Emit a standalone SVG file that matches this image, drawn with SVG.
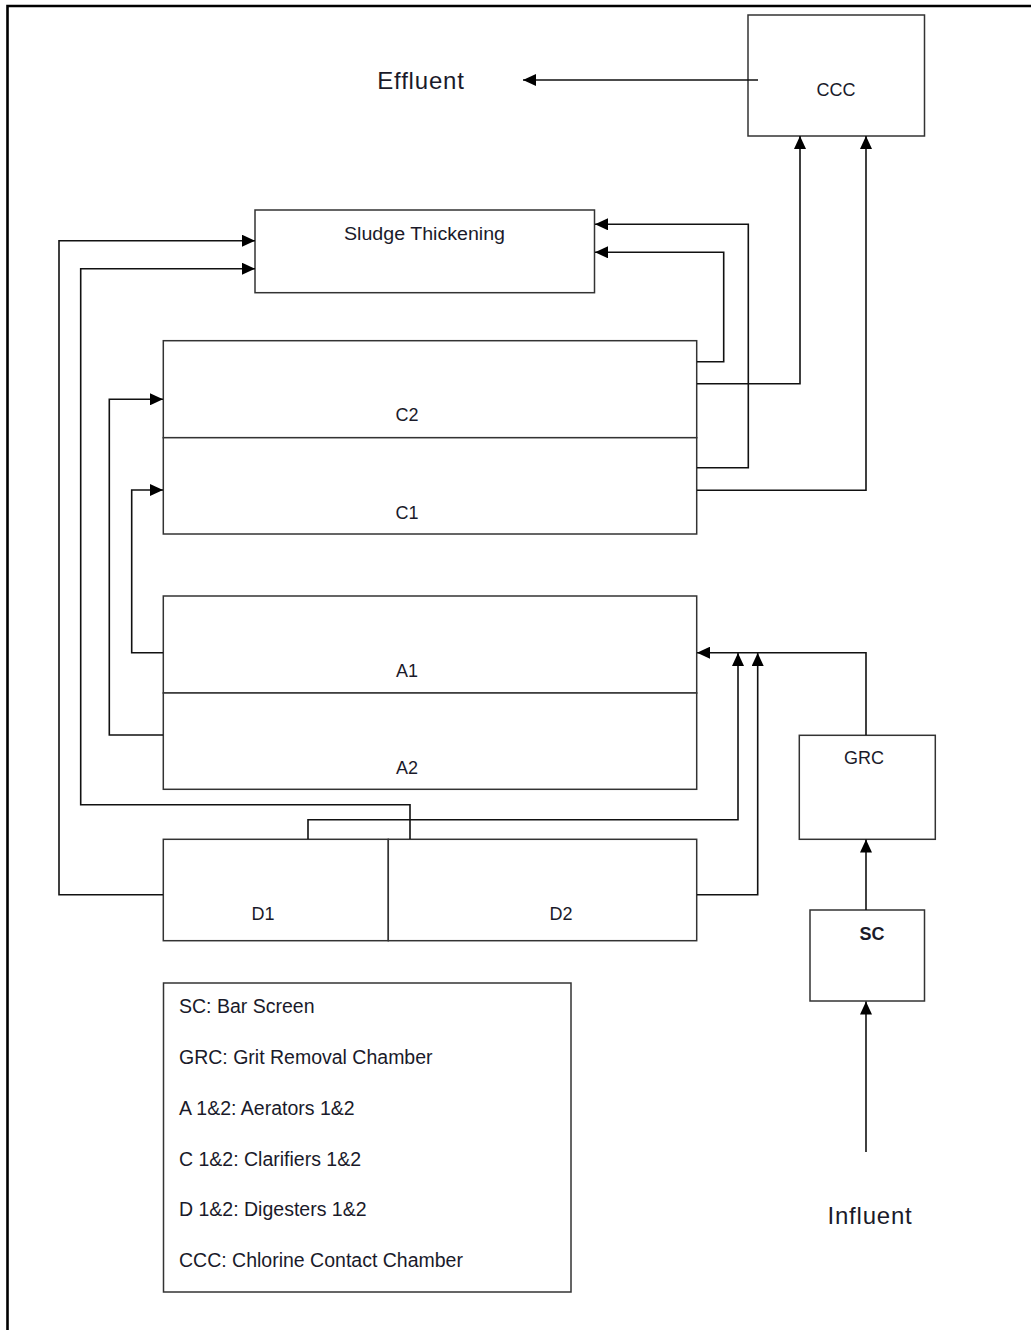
<svg xmlns="http://www.w3.org/2000/svg" width="1031" height="1330" viewBox="0 0 1031 1330">
<defs>
<marker id="ah" markerWidth="14" markerHeight="12" refX="13" refY="6" orient="auto" markerUnits="userSpaceOnUse">
<path d="M0,0 L13,6 L0,12 Z" fill="#000"/>
</marker>
<style>
.box{fill:#fff;stroke:#333;stroke-width:1.5}
.con{fill:none;stroke:#111;stroke-width:1.6}
.lbl{font-family:"Liberation Sans",Arial,sans-serif;font-size:18px;fill:#1a1a2a;text-anchor:middle}
.big{font-family:"Liberation Sans",Arial,sans-serif;font-size:24px;fill:#1a1a2a;text-anchor:middle;letter-spacing:0.8px}
.leg{font-family:"Liberation Sans",Arial,sans-serif;font-size:19.5px;fill:#1a1a2a}
</style>
</defs>
<rect width="1031" height="1330" fill="#fff"/>
<path d="M7.5,1330 V6 H1031" fill="none" stroke="#000" stroke-width="2.6"/>

<g id="ccc"><rect class="box" x="748" y="15" width="176.5" height="121"/><text class="lbl" x="836" y="96">CCC</text></g>
<g id="effluent"><text class="big" x="421" y="89">Effluent</text></g>
<g id="sludge"><rect class="box" x="255" y="210" width="339.5" height="82.7"/><text class="lbl" x="424.5" y="240" textLength="161" lengthAdjust="spacingAndGlyphs">Sludge Thickening</text></g>
<g id="c2"><rect class="box" x="163.3" y="340.7" width="533.4" height="97"/><text class="lbl" x="407" y="421">C2</text></g>
<g id="c1"><rect class="box" x="163.3" y="437.7" width="533.4" height="96.3"/><text class="lbl" x="407" y="519">C1</text></g>
<g id="a1"><rect class="box" x="163.3" y="596" width="533.4" height="97"/><text class="lbl" x="407" y="677">A1</text></g>
<g id="a2"><rect class="box" x="163.3" y="693" width="533.4" height="96.3"/><text class="lbl" x="407" y="774">A2</text></g>
<g id="d1"><rect class="box" x="163.3" y="839.3" width="225" height="101.4"/><text class="lbl" x="263" y="920">D1</text></g>
<g id="d2"><rect class="box" x="388.3" y="839.3" width="308.4" height="101.4"/><text class="lbl" x="561" y="920">D2</text></g>
<g id="grc"><rect class="box" x="799.3" y="735.3" width="136" height="104"/><text class="lbl" x="864" y="764">GRC</text></g>
<g id="sc"><rect class="box" x="810" y="910" width="114.5" height="91"/><text class="lbl" x="872" y="940" font-weight="bold">SC</text></g>
<g id="influent"><text class="big" x="870" y="1224">Influent</text></g>
<g id="legend">
<rect class="box" x="163.5" y="983" width="407.5" height="309"/>
<text class="leg" x="179" y="1013">SC: Bar Screen</text>
<text class="leg" x="179" y="1064">GRC: Grit Removal Chamber</text>
<text class="leg" x="179" y="1115">A 1&amp;2: Aerators 1&amp;2</text>
<text class="leg" x="179" y="1166">C 1&amp;2: Clarifiers 1&amp;2</text>
<text class="leg" x="179" y="1216">D 1&amp;2: Digesters 1&amp;2</text>
<text class="leg" x="179" y="1267">CCC: Chlorine Contact Chamber</text>
</g>

<g id="connectors">
<path class="con" d="M163,894.7 H59 V240.7 H255" marker-end="url(#ah)"/>
<path class="con" d="M410,839 V804.7 H80.7 V268.7 H255" marker-end="url(#ah)"/>
<path class="con" d="M308,839 V819.7 H738 V653" marker-end="url(#ah)"/>
<path class="con" d="M697,894.7 H757.7 V653" marker-end="url(#ah)"/>
<path class="con" d="M866,735 V652.7 H697" marker-end="url(#ah)"/>
<path class="con" d="M163,652.7 H131.7 V490 H163" marker-end="url(#ah)"/>
<path class="con" d="M163,735 H109.3 V399.3 H163" marker-end="url(#ah)"/>
<path class="con" d="M697,361.7 H723.7 V252.3 H595" marker-end="url(#ah)"/>
<path class="con" d="M697,467.7 H748.3 V224.3 H595" marker-end="url(#ah)"/>
<path class="con" d="M697,383.7 H800 V136" marker-end="url(#ah)"/>
<path class="con" d="M697,490.3 H866 V136" marker-end="url(#ah)"/>
<path class="con" d="M758,80 H523" stroke="#444" stroke-width="2.4" marker-end="url(#ah)"/>
<path class="con" d="M866,910 V839.5" stroke-width="2" marker-end="url(#ah)"/>
<path class="con" d="M866,1152 V1001.5" stroke-width="2" marker-end="url(#ah)"/>
</g>
</svg>
